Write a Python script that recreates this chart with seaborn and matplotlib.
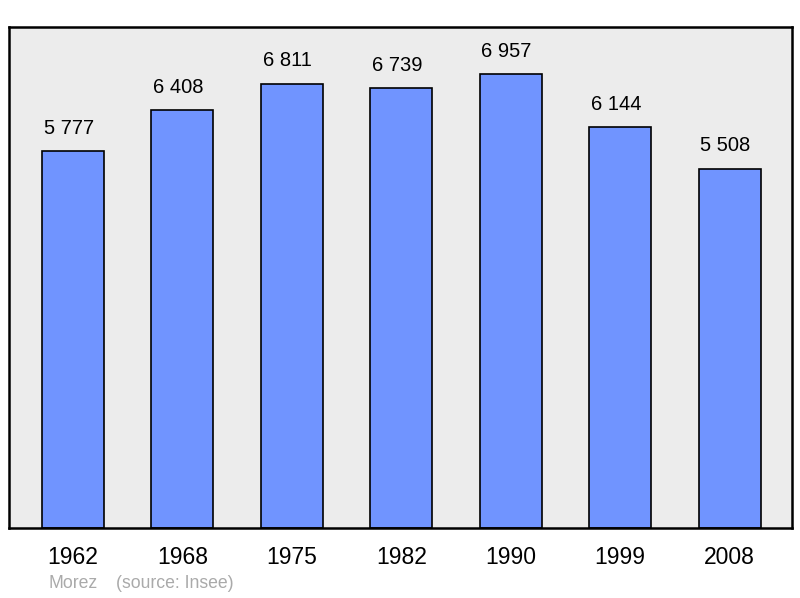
import matplotlib
matplotlib.use("Agg")
import matplotlib.pyplot as plt
import seaborn as sns
import pandas as pd

years = ["1962", "1968", "1975", "1982", "1990", "1999", "2008"]
population = [5777, 6408, 6811, 6739, 6957, 6144, 5508]
town = "Morez"
source = "(source: Insee)"

df = pd.DataFrame({"year": years, "pop": population})

sns.set_style("white")
plt.rcParams["font.family"] = ["Liberation Sans", "DejaVu Sans"]

fig = plt.figure(figsize=(8, 5.98), dpi=100)
ax = fig.add_axes([9 / 800, 70 / 598, 783 / 800, 501 / 598])
ax.set_facecolor("#ececec")

sns.barplot(data=df, x="year", y="pop", color="#7094ff", saturation=1,
            width=0.567, edgecolor="black", linewidth=1.2, ax=ax)

# value labels sit a touch left of the bar centre, like the original
for i, v in enumerate(population):
    ax.text(i - 0.04, v + 200, f"{v:,}".replace(",", " "), ha="center", va="bottom",
            fontsize=14.5, color="black")

ax.set_xlim(-0.585, 6.57)
ax.set_ylim(0, 7677)
ax.set_yticks([])
ax.set_xlabel("")
ax.set_ylabel("")
ax.tick_params(axis="x", length=0, labelsize=16.5, pad=13, labelcolor="black")
for s in ax.spines.values():
    s.set_color("black")
    s.set_linewidth(1.8)

fig.text(48 / 800, 1 - 584 / 598, town, color="#aaaaaa", fontsize=12.7, va="center")
fig.text(116 / 800, 1 - 584 / 598, source, color="#aaaaaa", fontsize=12.7, va="center")

fig.savefig("out.png", dpi=100)
